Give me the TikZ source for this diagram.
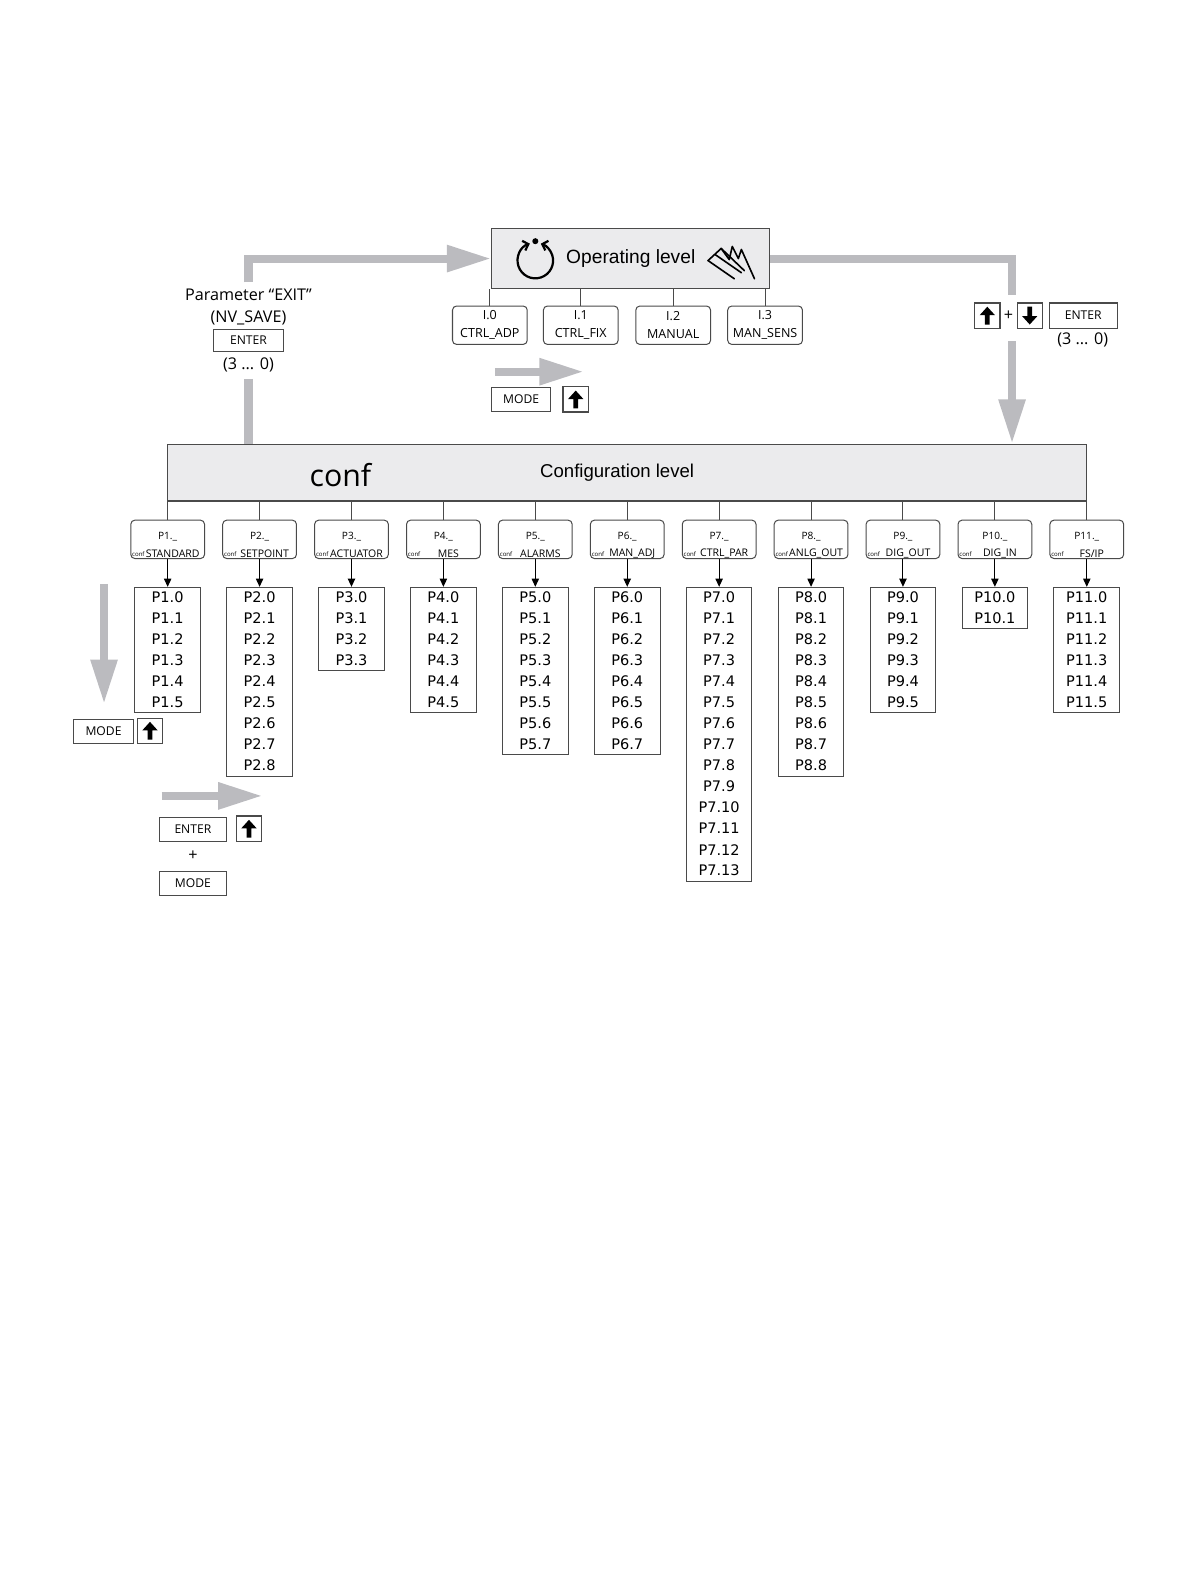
\documentclass[tikz,border=0pt]{standalone}
\usepackage{fontspec}
\setmainfont{Liberation Sans}
\newfontfamily\keyfont{Open Sans}
\newfontfamily\listfont{DejaVu Sans}
\usetikzlibrary{arrows.meta}
\definecolor{arrowgray}{HTML}{BBBBBF}
\definecolor{boxgray}{HTML}{EBEBED}
\definecolor{framegray}{HTML}{4A4A4A}

\begin{document}
\begin{tikzpicture}[x=0.5pt, y=-0.5pt,
  bigline/.style={line width=4pt, arrowgray},
  bigarrow/.style={bigline, -{Triangle[length=22pt, width=12.5pt]}},
  level/.style={draw=framegray, fill=boxgray, line width=0.6pt},
  keybox/.style={draw=framegray, line width=0.6pt, minimum height=12pt, inner sep=0pt, font=\keyfont\fontsize{6}{7}\selectfont},
  upkey/.style={keybox, minimum width=12.5pt, minimum height=12.5pt,
    path picture={\fill[shift={(path picture bounding box.center)}] (0pt,4.4pt) -- (3.8pt,0.2pt) -- (1.2pt,0.2pt) -- (1.2pt,-4.4pt) -- (-1.2pt,-4.4pt) -- (-1.2pt,0.2pt) -- (-3.8pt,0.2pt) -- cycle;}},
  downkey/.style={keybox, minimum width=12.5pt, minimum height=12.5pt,
    path picture={\fill[shift={(path picture bounding box.center)}] (0pt,-4.4pt) -- (3.8pt,-0.2pt) -- (1.2pt,-0.2pt) -- (1.2pt,4.4pt) -- (-1.2pt,4.4pt) -- (-1.2pt,-0.2pt) -- (-3.8pt,-0.2pt) -- cycle;}},
  ibox/.style={draw=framegray, line width=0.5pt, rounded corners=2pt, minimum width=37pt, minimum height=19pt, inner sep=0pt, align=center, font=\keyfont\fontsize{6.2}{9}\selectfont},
  pbox/.style={draw=framegray, line width=0.5pt, rounded corners=2pt, minimum width=36.5pt, minimum height=19pt},
  listbox/.style={draw=framegray, line width=0.5pt, minimum width=32.5pt, anchor=north},
  item/.style={inner sep=0pt, font=\listfont\fontsize{7.2}{8}\selectfont},
  tip/.style={line width=0.5pt, -{Triangle[length=4pt, width=3.6pt]}},
  tick/.style={line width=0.5pt, framegray},
  txt/.style={align=center, font=\keyfont\fontsize{8}{10.5}\selectfont}
]
\useasboundingbox (0,0) rectangle (1179.2,1566.3);

\node[level, minimum width=137.5pt, minimum height=30pt, font=\fontsize{9.5}{11}\selectfont] (op) at (624.5,256) {Operating level};
\coordinate (rot) at (530,258);
\draw[line width=1.1pt, {Straight Barb[length=2.4pt, width=5pt]}-{Straight Barb[length=2.4pt, width=5pt]}] (rot) ++(108:8.8pt) arc[start angle=108, end angle=432, radius=8.8pt];
\fill (rot) ++(0pt,9.6pt) circle[radius=1.5pt];
\draw[line width=0.8pt, line cap=round, line join=round] (701,258) -- (714,246) -- (722,257) -- (725,244) -- (731,256) -- (734,247) -- (747,276);
\draw[line width=0.8pt, line cap=round] (701,258) -- (727,276) (708,252) -- (734,270) (714,246) -- (737,268);

\foreach \i/\x/\t in {0/485/CTRL\_ADP, 1/575/CTRL\_FIX, 2/666.5/MANUAL, 3/757.5/MAN\_SENS}{
  \node[ibox] (I\i) at (\x,322) {I.\i\\\t};
  \draw[tick] (I\i.north) -- (I\i.north |- op.south);
}
\coordinate (opa) at (490,368);
\coordinate (opb) at (578,368);
\draw[bigarrow] (opa) -- (opb);
\node[keybox, minimum width=29pt] (opmode) at (516,395.5) {MODE};
\node[upkey] (opup) at (570,395.5) {};

\node[txt] (exit) at (246,304) {Parameter “EXIT”\\(NV\_SAVE)};
\node[keybox, minimum width=34.5pt, minimum height=11pt] (exitenter) at (246,337) {ENTER};
\node[txt] (exitcnt) at (246,361) {(3 ... 0)};

\node[upkey] (rup) at (977.5,312.5) {};
\node[txt] (rplus) at (998.5,313) {+};
\node[downkey] (rdown) at (1019.5,312.5) {};
\node[keybox, minimum width=33.5pt, minimum height=12.5pt] (renter) at (1072.5,312.5) {ENTER};
\node[txt] (rcnt) at (1072,337) {(3 ... 0)};
\coordinate (rtop) at (1002,292);
\coordinate (rbot) at (1002,338);

\node[level, minimum width=455pt, minimum height=28pt] (cfg) at (621,468) {};
\node[font=\fontsize{9.2}{11}\selectfont] (cfgtxt) at (611,468) {Configuration level};
\node[font=\keyfont\fontsize{15}{18}\selectfont] (conf) at (337,470) {conf};

\draw[bigarrow] (exit.north) |- (op.west);
\draw[bigline] (exitcnt.south) -- (exitcnt.south |- cfg.north);
\draw[bigline] (op.east) -| (rtop);
\draw[bigarrow] (rbot) -- (rbot |- cfg.north);

\foreach \i/\n/\t in {1/5/STANDARD, 2/8/SETPOINT, 3/3/ACTUATOR, 4/5/MES, 5/7/ALARMS, 6/7/MAN\_ADJ, 7/13/CTRL\_PAR, 8/8/ANLG\_OUT, 9/5/DIG\_OUT, 10/1/DIG\_IN, 11/5/{FS/IP}}{
  \pgfmathsetmacro{\px}{166+91*(\i-1)}
  \pgfmathsetmacro{\bh}{(20.85*\n+20)/2}
  \node[pbox] (P\i) at (\px,534) {};
  \node[font=\keyfont\fontsize{5}{6}\selectfont] (Pn\i) at (\px,531) {P\i.\_};
  \node[font=\keyfont\fontsize{5.2}{6}\selectfont] (Ps\i) at (\px+5,548) {\t};
  \node[font=\keyfont\fontsize{3}{4}\selectfont] (Pc\i) at (\px-29,549) {conf};
  \draw[tick] (P\i.north) -- (P\i.north |- cfg.south);
  \node[listbox, minimum height=\bh pt] (L\i) at (\px,581) {};
  \foreach \k in {0,...,\n}
    \node[item] (L\i-\k) at (\px,591+20.85*\k) {P\i.\k};
  \draw[tip] (P\i.south) -- (L\i.north);
}

\coordinate (la) at (103,578);
\coordinate (lb) at (103,697);
\draw[bigarrow] (la) -- (lb);
\node[keybox, minimum width=29.5pt] (lmode) at (102.5,724) {MODE};
\node[upkey] (lup) at (148.5,723.5) {};
\coordinate (ba) at (160,788);
\coordinate (bb) at (260,788);
\draw[bigarrow] (ba) -- (bb);
\node[keybox, minimum width=33pt] (benter) at (191,821) {ENTER};
\node[upkey] (bup) at (246.5,820.5) {};
\node[txt] (bplus) at (191,847) {+};
\node[keybox, minimum width=33pt] (bmode) at (191,874.5) {MODE};
\end{tikzpicture}
\end{document}
